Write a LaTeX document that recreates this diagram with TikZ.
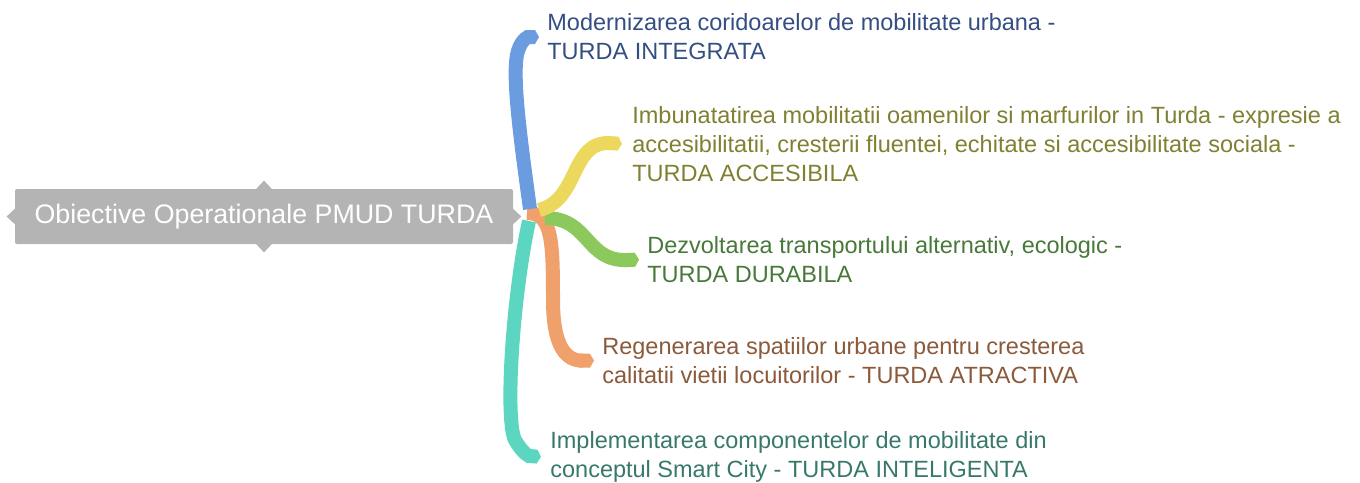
\documentclass[tikz,border=0pt]{standalone}
\usepackage{fontspec}
\setmainfont{Liberation Sans}
\usetikzlibrary{arrows.meta,calc}

\definecolor{hubgray}{RGB}{180,180,180}
\definecolor{brblue}{RGB}{108,156,224}
\definecolor{bryellow}{RGB}{236,216,92}
\definecolor{brgreen}{RGB}{140,201,92}
\definecolor{brorange}{RGB}{240,160,106}
\definecolor{brteal}{RGB}{92,214,192}
\definecolor{txblue}{RGB}{52,78,130}
\definecolor{txyellow}{RGB}{128,128,50}
\definecolor{txgreen}{RGB}{72,120,58}
\definecolor{txorange}{RGB}{138,90,58}
\definecolor{txteal}{RGB}{56,120,108}

\tikzset{every picture/.style={line width=0.75pt}}
\tikzset{
  branch/.style={line width=14pt, line cap=butt, -{Triangle Cap[length=4pt]}},
  goal/.style={anchor=north west, inner sep=0pt, align=left, font=\fontsize{23.5}{29}\selectfont},
}

\begin{document}
\begin{tikzpicture}[x=1pt,y=1pt,yscale=-1,xscale=1]
	\useasboundingbox (0,0) rectangle (1360,482);

	% central topic
	\node (obj) [fill=hubgray, rounded corners=2pt, minimum width=498pt, minimum height=55pt, text=white, font=\fontsize{26.8}{30}\selectfont] at (264,216.5) {Obiective Operationale PMUD TURDA};
	\fill [hubgray] (obj.north) ++(-8,0.5) -- ++(8,-8.5) -- ++(8,8.5) -- cycle;
	\fill [hubgray] (obj.south) ++(-8,-0.5) -- ++(8,8.5) -- ++(8,-8.5) -- cycle;
	\fill [hubgray] (obj.west) ++(0.5,-8) -- ++(-8.5,8) -- ++(8.5,8) -- cycle;
	\fill [hubgray] (obj.east) ++(-0.5,-8) -- ++(8.5,8) -- ++(-8.5,8) -- cycle;
	\coordinate (hub) at (527,213);

	% goals
	\node (integ) [goal, text=txblue] at (547,13) {Modernizarea coridoarelor de mobilitate urbana -\\TURDA INTEGRATA};
	\node (acces) [goal, text=txyellow] at (632,106) {Imbunatatirea mobilitatii oamenilor si marfurilor in Turda - expresie a\\accesibilitatii, cresterii fluentei, echitate si accesibilitate sociala -\\TURDA ACCESIBILA};
	\node (durab) [goal, text=txgreen] at (647,236) {Dezvoltarea transportului alternativ, ecologic -\\TURDA DURABILA};
	\node (atrac) [goal, text=txorange] at (602,337) {Regenerarea spatiilor urbane pentru cresterea\\calitatii vietii locuitorilor - TURDA ATRACTIVA};
	\node (intel) [goal, text=txteal] at (550,431) {Implementarea componentelor de mobilitate din\\conceptul Smart City - TURDA INTELIGENTA};

	% tips of the branches
	\coordinate (tipInteg) at ($(integ.north west)+(-8,24)$);
	\coordinate (tipAcces) at ($(acces.west)+(-10,0)$);
	\coordinate (tipDurab) at ($(durab.west)+(-8,0)$);
	\coordinate (tipAtrac) at ($(atrac.west)+(-8,0)$);
	\coordinate (tipIntel) at ($(intel.west)+(-9,0)$);

	% branches
	\draw [branch, brteal] ($(hub)+(2,8)$) .. controls (512,300) and (505,420) .. (515,440) .. controls (522,452) and (528,456) .. (tipIntel);
	\draw [branch, brorange] (hub) .. controls (552,213) and (553,240) .. (553,300) .. controls (553,345) and (565,361) .. (tipAtrac);
	\draw [branch, brgreen] ($(hub)+(18,5)$) .. controls (590,218) and (585,262) .. (tipDurab);
	\draw [branch, bryellow] ($(hub)+(12,-3)$) .. controls (580,200) and (570,140) .. (tipAcces);
	\draw [branch, brblue] ($(hub)+(3,-4)$) .. controls (522,150) and (512,80) .. (517,55) .. controls (520,40) and (528,37) .. (tipInteg);

\end{tikzpicture}
\end{document}
